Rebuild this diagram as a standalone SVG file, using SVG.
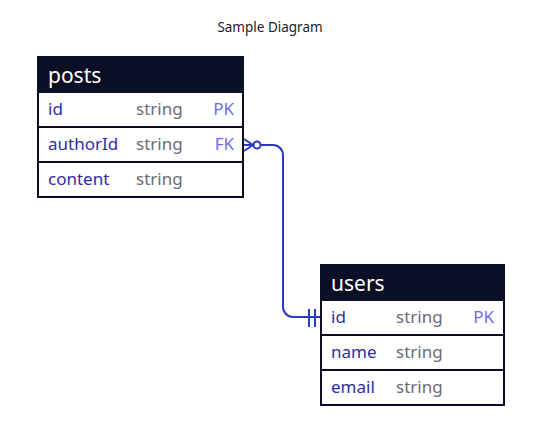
<svg xmlns="http://www.w3.org/2000/svg" width="556" height="446" viewBox="0 0 556 446">
<style>
text{font-family:"Source Sans Pro","Noto Sans","Open Sans",sans-serif}
.title{font-size:13.5px;fill:#1a1a2e}
.hdr{fill:#0b0f26}
.hname{font-size:21px;fill:#ffffff}
.row{fill:#ffffff;stroke:#0b0f26;stroke-width:2}
.frame{fill:none;stroke:#0b0f26;stroke-width:2}
.key{font-size:17px;fill:#2d2da8}
.type{font-size:17px;fill:#6b6b78}
.pk{font-size:17px;fill:#6b6bf0;text-anchor:end}
.conn{fill:none;stroke:#2a3ac0;stroke-width:2}
</style>
<rect width="556" height="446" fill="#ffffff"/>
<text class="title" x="270" y="32" text-anchor="middle">Sample Diagram</text>
<g id="posts">
<rect class="hdr" x="37" y="57" width="207" height="35"/>
<text class="hname" x="48" y="83">posts</text>
<rect class="row" x="38" y="92" width="205" height="35"/>
<rect class="row" x="38" y="127" width="205" height="35"/>
<rect class="row" x="38" y="162" width="205" height="35"/>
<rect class="frame" x="38" y="57" width="205" height="140"/>
<text class="key" x="48" y="115">id</text><text class="type" x="136" y="115">string</text><text class="pk" x="234" y="115">PK</text>
<text class="key" x="48" y="150">authorId</text><text class="type" x="136" y="150">string</text><text class="pk" x="234" y="150">FK</text>
<text class="key" x="48" y="185">content</text><text class="type" x="136" y="185">string</text>
</g>
<g id="users">
<rect class="hdr" x="320" y="265" width="185" height="35"/>
<text class="hname" x="331" y="291">users</text>
<rect class="row" x="321" y="300" width="183" height="35"/>
<rect class="row" x="321" y="335" width="183" height="35"/>
<rect class="row" x="321" y="370" width="183" height="35"/>
<rect class="frame" x="321" y="265" width="183" height="140"/>
<text class="key" x="331" y="323">id</text><text class="type" x="396" y="323">string</text><text class="pk" x="494" y="323">PK</text>
<text class="key" x="331" y="358">name</text><text class="type" x="396" y="358">string</text>
<text class="key" x="331" y="393">email</text><text class="type" x="396" y="393">string</text>
</g>
<g id="connectors">
<path class="conn" d="M261,145 H273 A10,10 0 0 1 283,155 V307 A10,10 0 0 0 293,317 H320"/>
<path class="conn" d="M244,145 H253 M244,139 L253,145 L244,151"/>
<circle class="conn" cx="257" cy="145" r="3.5"/>
<path class="conn" d="M309,309 V327 M315,309 V327"/>
</g>
</svg>
